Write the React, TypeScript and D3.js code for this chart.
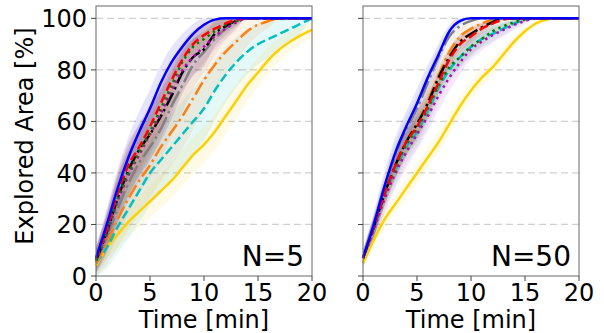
import { useEffect, useRef } from "react";
import * as d3 from "d3";

// time samples [min]
const TIMES = d3.range(0, 21);

// series names and styles
const SERIES = ["blue", "red", "green", "magenta", "black", "gray", "orange", "cyan", "gold"];
const COLORS: Record<string, string> = {
    blue: "#0000ff",
    red: "#ff0000",
    green: "#008000",
    magenta: "#bf00bf",
    black: "#000000",
    gray: "#808080",
    orange: "#ff7f0e",
    cyan: "#00bfbf",
    gold: "#ffd000",
};
const DASHES: Record<string, string> = {
    blue: "none",
    red: "9,4",
    green: "2.5,4",
    magenta: "2.5,4",
    black: "14,4,2.5,4",
    gray: "18,4,2.5,4",
    orange: "14,4,2.5,4",
    cyan: "9,4",
    gold: "none",
};

// N=5 panel, explored area [%] per minute
const N5: Record<string, number[]> = {
    blue: [7, 20, 34, 46, 56, 65, 75, 83, 89, 94, 97.5, 99.5, 100, 100, 100, 100, 100, 100, 100, 100, 100],
    red: [7, 18, 32, 43, 50, 58, 67, 76, 84, 90, 93.5, 96, 98, 99.5, 100, 100, 100, 100, 100, 100, 100],
    green: [6, 17, 30, 40, 48, 56, 65, 74, 83, 89, 92, 95, 97.5, 99, 100, 100, 100, 100, 100, 100, 100],
    magenta: [6, 16, 29, 39, 47, 55, 63, 72, 80, 85, 89, 93, 96, 98.5, 100, 100, 100, 100, 100, 100, 100],
    black: [6, 17, 30, 41, 49, 55, 62, 70, 79, 85, 88, 94, 97, 99, 100, 100, 100, 100, 100, 100, 100],
    gray: [6, 15, 26, 36, 44, 50, 57, 66, 74, 82, 87, 92, 96, 98.5, 100, 100, 100, 100, 100, 100, 100],
    orange: [5, 13, 22, 30, 37, 43, 50, 56, 62, 69, 76, 82, 87, 91, 95, 97.5, 99, 100, 100, 100, 100],
    cyan: [5, 11, 19, 26, 33, 40, 45, 50, 55, 60, 65, 72, 78, 83, 87, 90, 92, 94, 96, 98, 100],
    gold: [4, 11, 16, 21, 25, 29, 33, 37, 42, 47, 51, 56, 62, 68, 74, 79, 84, 88, 91, 93.5, 95.5],
};

// N=50 panel
const N50: Record<string, number[]> = {
    blue: [7, 20, 35, 48, 58, 67, 77, 86, 95, 99, 100, 100, 100, 100, 100, 100, 100, 100, 100, 100, 100],
    red: [7, 19, 32, 43, 52, 58, 66, 75, 84, 90, 93, 96, 98, 99.5, 100, 100, 100, 100, 100, 100, 100],
    green: [7, 19, 32, 42, 51, 57, 65, 74, 81, 85, 89, 92, 95, 97, 98.5, 99.5, 100, 100, 100, 100, 100],
    magenta: [7, 18, 30, 40, 48, 55, 62, 70, 77, 83, 88, 91, 93.5, 95.5, 97.5, 99, 100, 100, 100, 100, 100],
    black: [7, 19, 32, 43, 52, 59, 67, 77, 85, 91, 94, 96.5, 98.5, 100, 100, 100, 100, 100, 100, 100, 100],
    gray: [7, 20, 34, 47, 57, 65, 75, 85, 93, 97, 99, 100, 100, 100, 100, 100, 100, 100, 100, 100, 100],
    orange: [7, 19, 32, 43, 52, 59, 68, 78, 87, 93, 96, 98, 99.5, 100, 100, 100, 100, 100, 100, 100, 100],
    cyan: [7, 18, 31, 41, 50, 56, 64, 73, 80, 85, 89, 92, 94, 96, 98, 99.5, 100, 100, 100, 100, 100],
    gold: [5, 14, 22, 28, 34, 40, 46, 52, 59, 66, 72, 77, 81, 86, 91, 95, 98, 99.5, 100, 100, 100],
};

// spread of the shaded band per series (max half-width, %)
const SPREAD_N5 = [8, 9, 9, 10, 10, 12, 13, 13, 7];
const SPREAD_N50 = [6, 5, 5, 6, 5, 5, 5, 6, 4];

const X_TICKS = [0, 5, 10, 15, 20];
const Y_TICKS = [0, 20, 40, 60, 80, 100];
const PANELS = [
    { label: "N=5", data: N5, spread: SPREAD_N5, left: 96, showY: true },
    { label: "N=50", data: N50, spread: SPREAD_N50, left: 363, showY: false },
];

const FONT = "DejaVu Sans, sans-serif";

export default function App() {
    const svgRef = useRef<SVGSVGElement | null>(null);

    useEffect(() => {
        if (!svgRef.current) return;
        const svg = d3.select(svgRef.current);
        svg.selectAll("*").remove();

        const panelW = 216;
        const top = 6;
        const bottom = 276;

        const y = d3.scaleLinear().domain([0, 104.8]).range([bottom, top]);

        PANELS.forEach(panel => {
            const x = d3.scaleLinear().domain([0, 20]).range([panel.left, panel.left + panelW]);
            const g = svg.append("g");

            // grid
            g.selectAll("line.grid")
                .data(Y_TICKS.filter(v => v > 0))
                .enter()
                .append("line")
                .attr("x1", x(0))
                .attr("x2", x(20))
                .attr("y1", d => y(d))
                .attr("y2", d => y(d))
                .attr("stroke", "#d0d0d0")
                .attr("stroke-width", 1.2)
                .attr("stroke-dasharray", "7,4");

            // bands
            SERIES.slice().reverse().forEach(name => {
                const i = SERIES.indexOf(name);
                const vals = panel.data[name];
                const s = panel.spread[i];
                const half = (v: number) => (s * Math.sqrt(Math.max(0, v * (100 - v)))) / 50;
                const area = d3
                    .area<number>()
                    .x((d, j) => x(TIMES[j]))
                    .y0(d => y(Math.max(0, d - half(d))))
                    .y1(d => y(Math.min(100, d + half(d))))
                    .curve(d3.curveMonotoneX);
                g.append("path")
                    .attr("d", area(vals))
                    .attr("fill", COLORS[name])
                    .attr("fill-opacity", 0.1);
            });

            // lines
            SERIES.slice().reverse().forEach(name => {
                const line = d3
                    .line<number>()
                    .x((d, j) => x(TIMES[j]))
                    .y(d => y(d))
                    .curve(d3.curveMonotoneX);
                g.append("path")
                    .attr("d", line(panel.data[name]))
                    .attr("fill", "none")
                    .attr("stroke", COLORS[name])
                    .attr("stroke-width", 2.5)
                    .attr("stroke-dasharray", DASHES[name]);
            });

            // frame
            g.append("rect")
                .attr("x", x(0))
                .attr("y", top)
                .attr("width", panelW)
                .attr("height", bottom - top)
                .attr("fill", "none")
                .attr("stroke", "#666")
                .attr("stroke-width", 1);

            // x ticks
            X_TICKS.forEach(t => {
                g.append("line")
                    .attr("x1", x(t)).attr("x2", x(t))
                    .attr("y1", bottom).attr("y2", bottom + 5)
                    .attr("stroke", "#444");
                g.append("text")
                    .attr("x", x(t))
                    .attr("y", bottom + 25)
                    .attr("text-anchor", "middle")
                    .attr("font-family", FONT)
                    .attr("font-size", 24)
                    .text(t);
            });

            // y ticks
            Y_TICKS.forEach(v => {
                g.append("line")
                    .attr("x1", x(0) - 5).attr("x2", x(0))
                    .attr("y1", y(v)).attr("y2", y(v))
                    .attr("stroke", "#444");
                if (panel.showY) {
                    g.append("text")
                        .attr("x", x(0) - 9)
                        .attr("y", y(v))
                        .attr("dy", "0.36em")
                        .attr("text-anchor", "end")
                        .attr("font-family", FONT)
                        .attr("font-size", 24)
                        .text(v);
                }
            });

            g.append("text")
                .attr("x", x(0) + panelW / 2)
                .attr("y", 328)
                .attr("text-anchor", "middle")
                .attr("font-family", FONT)
                .attr("font-size", 24)
                .text("Time [min]");

            g.append("text")
                .attr("x", x(20) - 8)
                .attr("y", 266)
                .attr("text-anchor", "end")
                .attr("font-family", FONT)
                .attr("font-size", 28)
                .text(panel.label);
        });

        svg.append("text")
            .attr("transform", `translate(33,136) rotate(-90)`)
            .attr("text-anchor", "middle")
            .attr("font-family", FONT)
            .attr("font-size", 24)
            .text("Explored Area [%]");
    }, []);

    return (
        <svg
            ref={svgRef}
            width={604}
            height={333}
            style={{ position: "absolute", left: 0, top: 0, background: "white" }}
        ></svg>
    );
}
